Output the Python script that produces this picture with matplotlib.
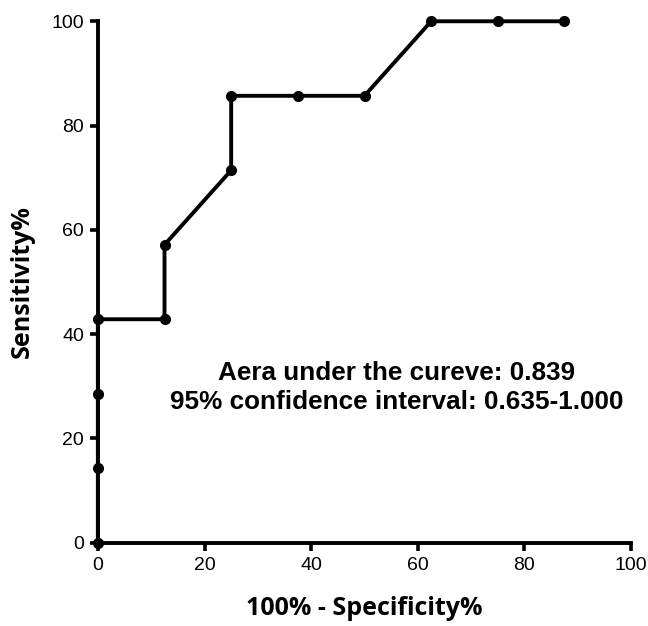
import matplotlib
matplotlib.use('Agg')
import matplotlib.pyplot as plt

# ROC curve points (100% - specificity, sensitivity)
fpr = [0, 0, 0, 0, 12.5, 12.5, 25, 25, 37.5, 50, 62.5, 75, 87.5]
tpr = [0, 14.29, 28.57, 42.86, 42.86, 57.14, 71.43, 85.71, 85.71, 85.71, 100, 100, 100]
ticks = [0, 20, 40, 60, 80, 100]
auc_text = 'Aera under the cureve: 0.839\n95% confidence interval: 0.635-1.000'

fig = plt.figure(figsize=(6.48, 6.26), dpi=100)
ax = fig.add_axes([0.151, 0.133, 0.823, 0.833])

ax.plot(fpr, tpr, color='black', linewidth=2.8, marker='o', markersize=7,
        clip_on=False, zorder=3)

ax.set_xlim(0, 100)
ax.set_ylim(0, 100)
ax.set_xticks(ticks)
ax.set_yticks(ticks)

for s in ['top', 'right']:
    ax.spines[s].set_visible(False)
for s in ['left', 'bottom']:
    ax.spines[s].set_linewidth(2.8)

ax.tick_params(direction='out', length=6, width=2.6, labelsize=14, pad=4)
for lab in ax.get_xticklabels() + ax.get_yticklabels():
    lab.set_fontfamily('Liberation Sans')

ax.set_xlabel('100% - Specificity%', fontsize=18, fontweight='bold',
              fontfamily='Open Sans', labelpad=16)
ax.set_ylabel('Sensitivity%', fontsize=18, fontweight='bold',
              fontfamily='Open Sans', labelpad=12)

ax.text(56, 29.7, auc_text, ha='center', va='center', fontsize=18.8,
        fontweight='bold', fontfamily='Liberation Sans', linespacing=1.25)

fig.savefig('out.png', dpi=100)
